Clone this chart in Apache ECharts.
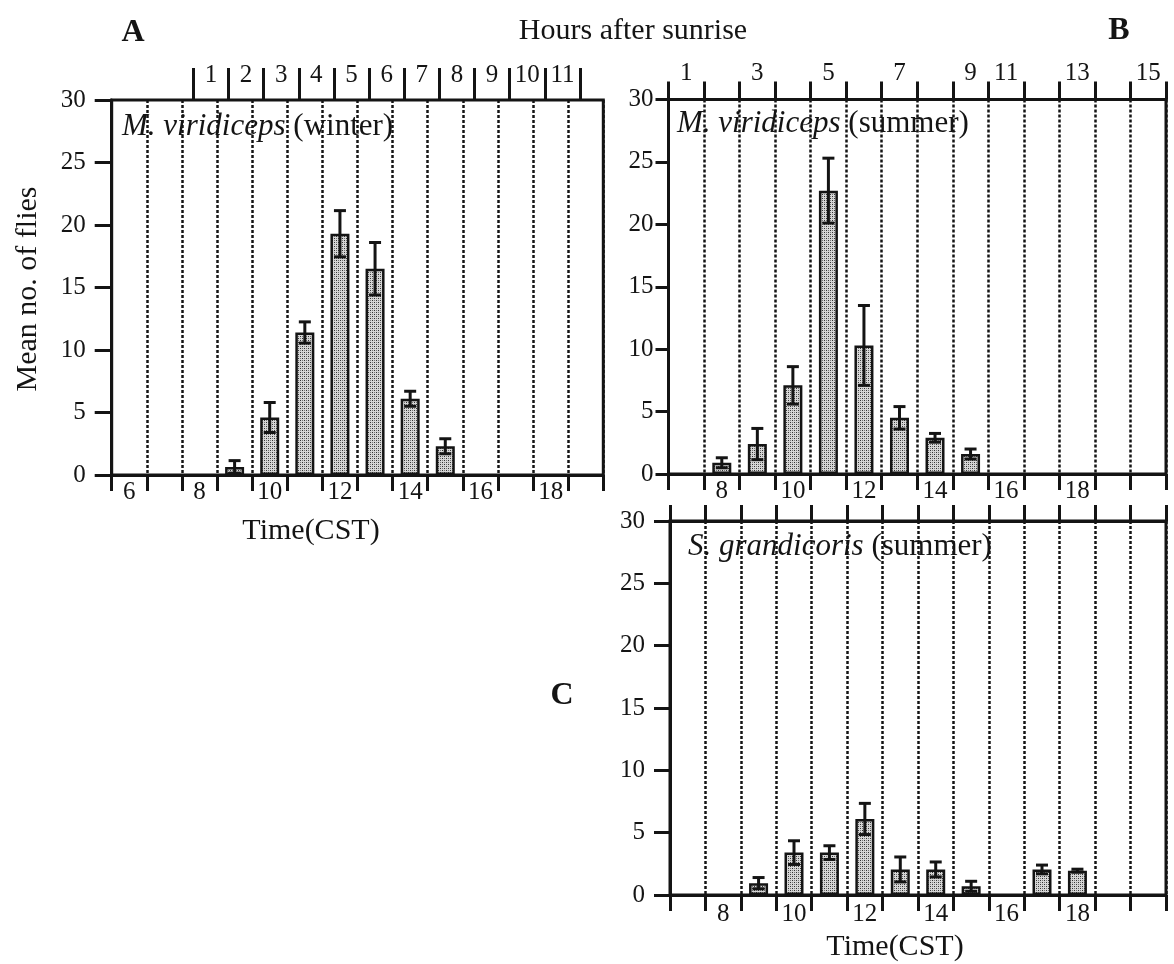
<!DOCTYPE html>
<html>
<head>
<meta charset="utf-8">
<script src="https://cdn.jsdelivr.net/npm/echarts@6/dist/echarts.min.js"></script>
<style>
  html, body { margin: 0; padding: 0; background: #fff; }
  #chart { width: 1174px; height: 964px; }
</style>
</head>
<body>
<div id="chart"></div>
<script>
// Clock-hour categories (CST) and the labels printed under them
const timeCatsA = ['6','7','8','9','10','11','12','13','14','15','16','17','18','19'];
const timeLabelsA = ['6','','8','','10','','12','','14','','16','','18',''];
const timeCatsBC = ['7','8','9','10','11','12','13','14','15','16','17','18','19','20'];
const timeLabelsBC = ['','8','','10','','12','','14','','16','','18','',''];

// Hours-after-sunrise scales along the top edges
const sunriseLabelsA = ['1','2','3','4','5','6','7','8','9','10','11'];
const sunriseLabelsB = ['1','','3','','5','','7','','9','11','','13','','15'];

// M. viridiceps, winter
const winterHours = ['9','10','11','12','13','14','15'];
const winterMean  = [0.65, 4.6, 11.4, 19.3, 16.5, 6.1, 2.3];
const winterSE    = [0.5, 1.2, 0.85, 1.85, 2.1, 0.6, 0.6];

// M. viridiceps, summer
const summerHours = ['8','9','10','11','12','13','14','15'];
const summerMean  = [0.9, 2.4, 7.1, 22.7, 10.3, 4.5, 2.9, 1.6];
const summerSE    = [0.4, 1.25, 1.5, 2.6, 3.2, 0.9, 0.35, 0.4];

// S. grandicoris, summer
const grandHours = ['9','10','11','12','13','14','15','17','18'];
const grandMean  = [0.95, 3.4, 3.4, 6.1, 2.05, 2.05, 0.7, 2.05, 1.95];
const grandSE    = [0.45, 0.95, 0.55, 1.25, 1.0, 0.6, 0.4, 0.35, 0.12];

const SERIF = '"Liberation Serif", "Times New Roman", serif';
const INK = '#141414';

// Stippled fill used for the bars
function stipple() {
  const c = document.createElement('canvas');
  c.width = 4; c.height = 4;
  const g = c.getContext('2d');
  g.fillStyle = '#d6d6d6';
  g.fillRect(0, 0, 4, 4);
  g.fillStyle = '#333333';
  g.fillRect(0, 0, 1, 1);
  g.fillRect(2, 2, 1, 1);
  g.fillStyle = '#777777';
  g.fillRect(2, 0, 1, 1);
  g.fillRect(0, 2, 1, 1);
  return c;
}
const fill = { image: stipple(), repeat: 'repeat' };

function errorBars(params, api) {
  const x = api.value(0), m = api.value(1), se = api.value(2);
  const hi = api.coord([x, m + se]);
  const lo = api.coord([x, Math.max(0, m - se)]);
  const w = 6;
  const style = { stroke: INK, lineWidth: 3 };
  return {
    type: 'group',
    children: [
      { type: 'line', shape: { x1: hi[0], y1: hi[1], x2: lo[0], y2: lo[1] }, style },
      { type: 'line', shape: { x1: hi[0] - w, y1: hi[1], x2: hi[0] + w, y2: hi[1] }, style },
      { type: 'line', shape: { x1: lo[0] - w, y1: lo[1], x2: lo[0] + w, y2: lo[1] }, style }
    ]
  };
}

const lineStyle = { color: INK, width: 3 };
const dotted = { show: true, interval: 0, lineStyle: { color: INK, width: 2.5, type: [3, 2] } };

function timeAxis(grid, cats, labels, margin) {
  return {
    type: 'category', gridIndex: grid, position: 'bottom', data: cats,
    boundaryGap: true,
    axisLine: { onZero: false, lineStyle },
    axisTick: { show: true, interval: 0, length: 16, lineStyle },
    axisLabel: {
      interval: 0, margin: margin, color: INK, fontFamily: SERIF, fontSize: 25,
      formatter: (v, i) => labels[i]
    },
    splitLine: dotted
  };
}

function countAxis(grid, tickLen, margin) {
  return {
    type: 'value', gridIndex: grid, min: 0, max: 30, interval: 5,
    axisLine: { show: true, onZero: false, lineStyle },
    axisTick: { show: true, length: tickLen, lineStyle },
    axisLabel: { margin: margin, color: INK, fontFamily: SERIF, fontSize: 25 },
    splitLine: { show: false }
  };
}

function bars(xi, yi, hours, mean) {
  return {
    type: 'bar', xAxisIndex: xi, yAxisIndex: yi, barWidth: 19, z: 2,
    itemStyle: { color: fill, borderColor: INK, borderWidth: 2.5 },
    data: hours.map((h, i) => [h, mean[i]])
  };
}

function errors(xi, yi, hours, mean, se) {
  return {
    type: 'custom', xAxisIndex: xi, yAxisIndex: yi, z: 3,
    renderItem: errorBars, encode: { x: 0, y: 1 },
    data: hours.map((h, i) => [h, mean[i], se[i]])
  };
}

function text(x, y, str, size, extra) {
  return Object.assign({
    type: 'text', x: x, y: y,
    style: Object.assign({
      text: str, fill: INK, font: size + 'px ' + SERIF,
      align: 'center', verticalAlign: 'middle',
      textAlign: 'center', textVerticalAlign: 'middle'
    }, (extra && extra.style) || {})
  }, (extra && extra.el) || {});
}

function species(x, y, name, season) {
  return {
    type: 'text', x: x, y: y,
    style: {
      text: '{i|' + name + '} {r|(' + season + ')}',
      fill: INK, fontFamily: SERIF, fontSize: 31,
      align: 'left', verticalAlign: 'middle',
      textAlign: 'left', textVerticalAlign: 'middle',
      rich: {
        i: { fontStyle: 'italic', fontFamily: SERIF, fontSize: 31, fill: INK, color: INK },
        r: { fontFamily: SERIF, fontSize: 31, fill: INK, color: INK }
      }
    }
  };
}

const chart = echarts.init(document.getElementById('chart'), null, { renderer: 'canvas' });
chart.setOption({
  animation: false,
  backgroundColor: '#fff',
  grid: [
    { left: 111.7, top: 100, width: 491.6, height: 375, show: true, borderColor: INK, borderWidth: 3 },
    { left: 193.3, top: 100, width: 386.7, height: 375, show: false },
    { left: 668.5, top: 99.5, width: 497.5, height: 374.5, show: true, borderColor: INK, borderWidth: 3 },
    { left: 670, top: 521, width: 496, height: 374, show: true, borderColor: INK, borderWidth: 3 }
  ],
  xAxis: [
    timeAxis(0, timeCatsA, timeLabelsA, 5),
    {
      type: 'category', gridIndex: 1, position: 'top', data: sunriseLabelsA, boundaryGap: true,
      axisLine: { show: false, onZero: false },
      axisTick: { show: true, interval: 0, length: 32, lineStyle },
      axisLabel: { interval: 0, margin: 12, color: INK, fontFamily: SERIF, fontSize: 25 },
      splitLine: { show: false }
    },
    timeAxis(2, timeCatsBC, timeLabelsBC, 5),
    {
      type: 'category', gridIndex: 2, position: 'top', data: timeCatsBC, boundaryGap: true,
      axisLine: { show: true, onZero: false, lineStyle },
      axisTick: { show: true, interval: 0, length: 18, lineStyle },
      axisLabel: {
        interval: 0, margin: 14, color: INK, fontFamily: SERIF, fontSize: 25,
        formatter: (v, i) => sunriseLabelsB[i]
      },
      splitLine: { show: false }
    },
    timeAxis(3, timeCatsBC, timeLabelsBC, 7),
    {
      type: 'category', gridIndex: 3, position: 'top', data: timeCatsBC, boundaryGap: true,
      axisLine: { show: true, onZero: false, lineStyle },
      axisTick: { show: true, interval: 0, length: 16, lineStyle },
      axisLabel: { show: false },
      splitLine: { show: false }
    }
  ],
  yAxis: [
    countAxis(0, 17, 26),
    { type: 'value', gridIndex: 1, min: 0, max: 30, show: false },
    countAxis(2, 13, 15),
    countAxis(3, 16, 25)
  ],
  series: [
    bars(0, 0, winterHours, winterMean),
    errors(0, 0, winterHours, winterMean, winterSE),
    bars(2, 2, summerHours, summerMean),
    errors(2, 2, summerHours, summerMean, summerSE),
    bars(4, 3, grandHours, grandMean),
    errors(4, 3, grandHours, grandMean, grandSE)
  ],
  graphic: [
    text(133, 33, 'A', 32, { style: { font: 'bold 32px ' + SERIF } }),
    text(1119, 31, 'B', 32, { style: { font: 'bold 32px ' + SERIF } }),
    text(562, 696, 'C', 32, { style: { font: 'bold 32px ' + SERIF } }),
    text(633, 31, 'Hours after sunrise', 30),
    text(28, 289, 'Mean no. of flies', 30, { el: { rotation: Math.PI / 2 } }),
    text(311, 531, 'Time(CST)', 30),
    text(895, 947, 'Time(CST)', 30),
    species(122, 127, 'M. viridiceps', 'winter'),
    species(677, 124, 'M. viridiceps', 'summer'),
    species(688, 547, 'S. grandicoris', 'summer')
  ]
});
</script>
</body>
</html>
